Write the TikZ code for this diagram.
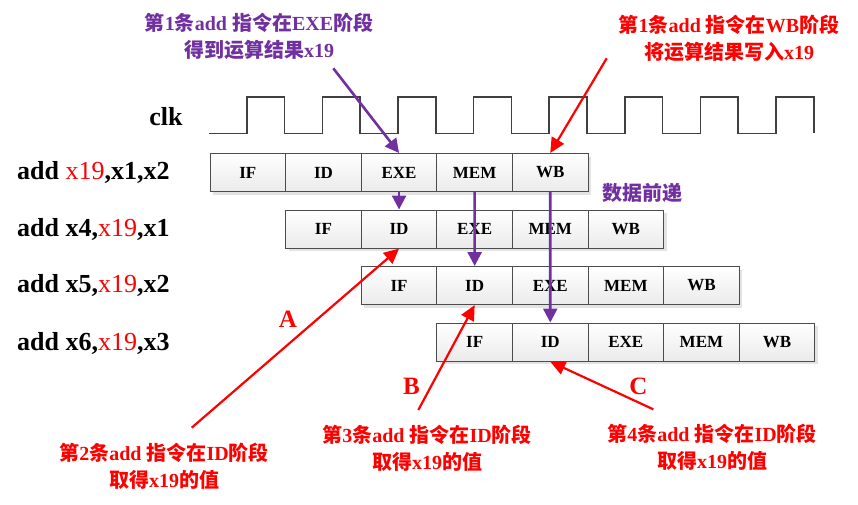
\documentclass[tikz,border=0pt]{standalone}
\usepackage{fontspec}
\setmainfont{Liberation Serif}
\newfontfamily\cjk{Noto Sans CJK SC}
\usetikzlibrary{arrows.meta,shadows}
\definecolor{pur}{HTML}{7030A0}
\definecolor{rd}{HTML}{FF0000}
\definecolor{clkc}{HTML}{404040}
\newcommand{\zh}[1]{{\cjk #1}}
\begin{document}
\begin{tikzpicture}[x=1pt,y=-1pt,
  stagebox/.style={draw=gray!60!black, line width=1.1pt, top color=white, bottom color=gray!16,
    minimum width=75.6pt, minimum height=38pt, inner sep=0pt, anchor=north west,
    font=\fontsize{17}{17}\selectfont\bfseries,
    drop shadow={shadow xshift=3pt, shadow yshift=-3pt, fill=gray!22, opacity=1}},
  rowlab/.style={anchor=west, inner sep=0pt, font=\fontsize{26}{26}\selectfont\bfseries},
  note/.style={align=center, inner sep=0pt, font=\fontsize{20}{27}\selectfont\bfseries},
  letter/.style={inner sep=0pt, text=rd, font=\fontsize{25}{25}\selectfont\bfseries},
  parrow/.style={draw=pur, line width=2.6pt, -{Triangle[width=14pt,length=14pt]}},
  rarrow/.style={draw=rd, line width=2.2pt, -{Triangle[width=14pt,length=15pt]}}]
\useasboundingbox (0,0) rectangle (858,504);

% clock
\node[rowlab, anchor=center] (clk) at (166,117) {clk};
\draw[clkc, line width=1.6pt] (209,133.3)
  \foreach \k in {1,...,8} { -- ++(37.8,0) -- ++(0,-36.6) -- ++(37.8,0) -- ++(0,36.6) };

% row labels
\node[rowlab] (l1) at (17,172) {add \textcolor{rd}{\mdseries x19},x1,x2};
\node[rowlab] (l2) at (17,229) {add x4,\textcolor{rd}{\mdseries x19},x1};
\node[rowlab] (l3) at (17,285.5) {add x5,\textcolor{rd}{\mdseries x19},x2};
\node[rowlab] (l4) at (17,343) {add x6,\textcolor{rd}{\mdseries x19},x3};

% pipeline stages
\foreach \r/\xo/\yo in {1/209.5/153, 2/285.1/209.5, 3/360.7/266, 4/436.3/322.5} {
  \foreach [count=\i] \s in {IF,ID,EXE,MEM,WB} {
    \node[stagebox] (r\r s\i) at ({\xo+75.6*(\i-1)}, \yo) {\s};
  }
}

% notes
\node[note, text=pur] (n1) at (259,36) {\zh{第}1\zh{条}add \zh{指令在}EXE\zh{阶段}\\\zh{得到运算结果}x19};
\node[note, text=rd] (n2) at (729,38) {\zh{第}1\zh{条}add \zh{指令在}WB\zh{阶段}\\\zh{将运算结果写入}x19};
\node[note, text=pur] (fw) at (642,193) {\zh{数据前递}};
\node[note, text=rd] (n3) at (164,466) {\zh{第}2\zh{条}add \zh{指令在}ID\zh{阶段}\\\zh{取得}x19\zh{的值}};
\node[note, text=rd] (n4) at (427,448) {\zh{第}3\zh{条}add \zh{指令在}ID\zh{阶段}\\\zh{取得}x19\zh{的值}};
\node[note, text=rd] (n5) at (712,447) {\zh{第}4\zh{条}add \zh{指令在}ID\zh{阶段}\\\zh{取得}x19\zh{的值}};

\node[letter] (la) at (288,319) {A};
\node[letter] (lb) at (411.5,386) {B};
\node[letter] (lc) at (638.5,386.5) {C};

% arrow free ends
\coordinate (s1) at (333.3,68.3);
\coordinate (s2) at (606.7,58.3);
\coordinate (sa) at (191.7,427.7);
\coordinate (sb) at (418.3,410);
\coordinate (sc) at (653.3,409.3);

% purple arrows
\draw[parrow] (s1) -- (r1s3.north);
\draw[parrow] (r1s3.south) -- (r2s2.north);
\draw[parrow] (r1s4.south) -- (r3s2.north);
\draw[parrow] (r1s5.south) -- (r4s2.north);

% red arrows
\draw[rarrow] (s2) -- (r1s5.north);
\draw[rarrow] (sa) -- (r2s2.south);
\draw[rarrow] (sb) -- (r3s2.south);
\draw[rarrow] (sc) -- (r4s2.south);
\end{tikzpicture}
\end{document}
